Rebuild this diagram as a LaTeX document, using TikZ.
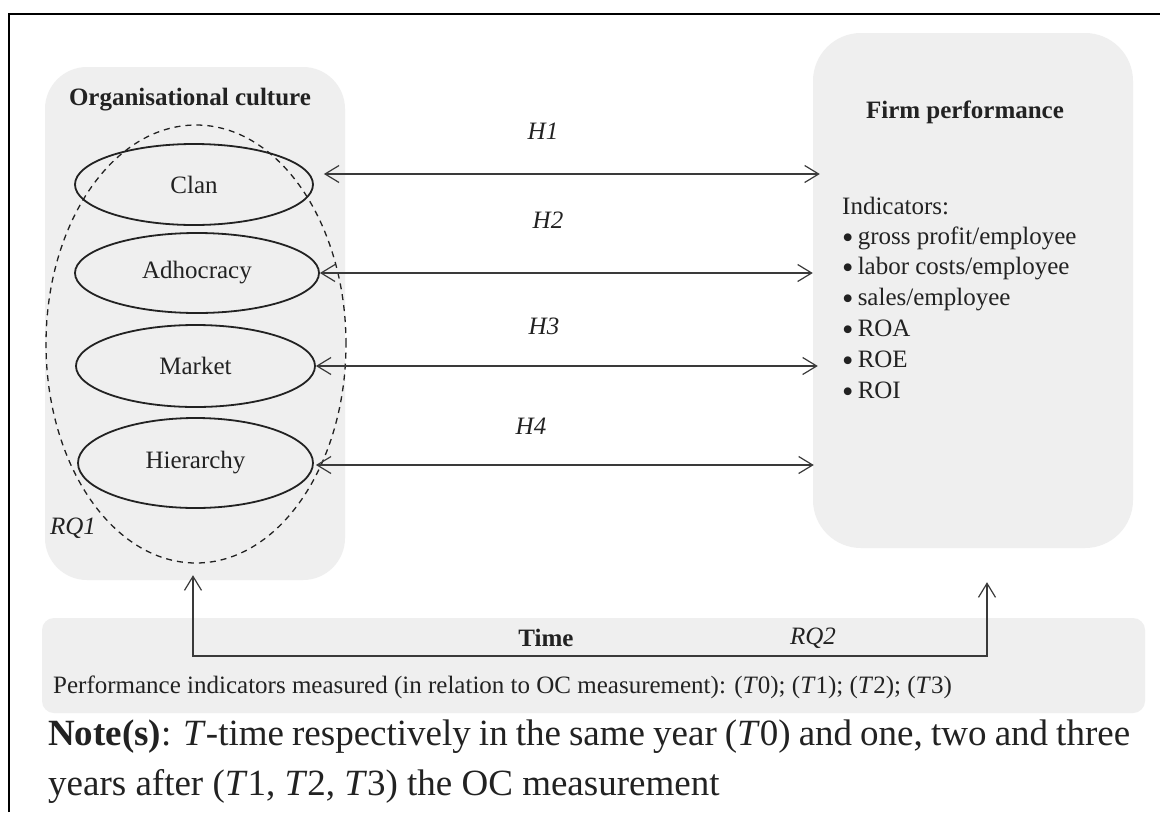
\documentclass[tikz,border=0pt]{standalone}
\usepackage{fontspec}
\setmainfont{Liberation Serif}
\usetikzlibrary{arrows.meta,calc,shapes.geometric}
\definecolor{boxgray}{HTML}{EFEFEF}
\definecolor{ink}{HTML}{222222}
\definecolor{linegray}{HTML}{3A3A3A}
\newcommand{\mybul}{\raisebox{-4pt}{\scalebox{1.3}{\textbullet}}\,}
\begin{document}
\begin{tikzpicture}[x=1pt,y=-1pt,
  lbl/.style={text=ink, font=\fontsize{25}{30}\selectfont, text height=17pt, text depth=5pt, inner sep=0pt},
  hyp/.style={lbl, font=\fontsize{25}{30}\selectfont\itshape},
  headline/.style={lbl, font=\fontsize{25}{30}\selectfont\bfseries},
  panel/.style={rectangle, fill=boxgray, draw=none, inner sep=0pt},
  culture/.style={ellipse, draw=ink, line width=1.8pt, inner sep=0pt, text=ink, font=\fontsize{25}{30}\selectfont},
  zone/.style={ellipse, draw=ink, line width=1.3pt, dash pattern=on 6pt off 5pt, inner sep=0pt},
  link/.style={draw=linegray, line width=1.2pt, {Straight Barb[length=14pt,width=17pt]}-{Straight Barb[length=14pt,width=17pt]}},
  notefont/.style={text=ink, font=\fontsize{37}{44}\selectfont, text height=25pt, text depth=8pt, inner sep=0pt, anchor=west}
]
\useasboundingbox (0,0) rectangle (1160,812);
\fill[white] (0,0) rectangle (1160,812);
\draw[black, line width=2.8pt] (9,812) -- (9,14) -- (1160,14);

% panels
\node[panel, rounded corners=42pt, minimum width=300pt, minimum height=513pt] (orgbox) at (195,323.5) {};
\node[panel, rounded corners=48pt, minimum width=320pt, minimum height=515pt] (perfbox) at (973,290.5) {};
\node[panel, rounded corners=12pt, minimum width=1103pt, minimum height=95pt] (timebox) at (593.5,665.5) {};

% left panel content
\node[headline] (orgtitle) at (190,99) {Organisational culture};
\node[zone, minimum width=300pt, minimum height=438pt] (rq1zone) at (196,344) {};
\node[culture, minimum width=238pt, minimum height=81pt] (clan) at (194,184.5) {Clan};
\node[culture, minimum width=244pt, minimum height=80pt] (adhoc) at (197,273) {Adhocracy};
\node[culture, minimum width=239pt, minimum height=82pt] (market) at (195.5,366) {Market};
\node[culture, minimum width=235pt, minimum height=90pt] (hier) at (195.5,463) {Hierarchy};
\node[hyp] (rq1) at (73,528) {RQ1};

% right panel content
\node[headline] (perftitle) at (965,112) {Firm performance};
\node[lbl, anchor=west] (ind0) at (842,208) {Indicators:};
\node[lbl, anchor=west] (ind1) at (842,238) {\mybul gross profit/employee};
\node[lbl, anchor=west] (ind2) at (842,268) {\mybul labor costs/employee};
\node[lbl, anchor=west] (ind3) at (842,299) {\mybul sales/employee};
\node[lbl, anchor=west] (ind4) at (842,330) {\mybul ROA};
\node[lbl, anchor=west] (ind5) at (842,361) {\mybul ROE};
\node[lbl, anchor=west] (ind6) at (842,392) {\mybul ROI};

% hypotheses
\node[hyp] (h1) at (543,133) {H1};
\node[hyp] (h2) at (548,222) {H2};
\node[hyp] (h3) at (544,328) {H3};
\node[hyp] (h4) at (531,428) {H4};

\coordinate (h1a) at ($(clan.east)+(10,-10.5)$);
\draw[link] (h1a) -- ($(h1a -| perfbox.west)+(7,0)$);
\draw[link] (adhoc.east) -- (adhoc.east -| perfbox.west);
\draw[link] (market.east) -- ($(market.east -| perfbox.west)+(5,0)$);
\coordinate (h4a) at ($(hier.east)+(2,2)$);
\draw[link] (h4a) -- ($(h4a -| perfbox.west)+(1,0)$);

% time panel
\node[headline] (timelbl) at (546,640) {Time};
\node[hyp] (rq2) at (813,638) {RQ2};
\node[lbl, anchor=west] (perfmeas) at (53,687) {Performance indicators measured (in relation to OC measurement): (\textit{T}0); (\textit{T}1); (\textit{T}2); (\textit{T}3)};
\coordinate (rq1tip) at ($(orgbox.south)+(-2,-5)$);
\coordinate (rq2tip) at ($(perfbox.south)+(14,34)$);
\coordinate (tl) at (rq1tip |- 0,656);
\coordinate (tr) at (rq2tip |- 0,656);
\draw[link] (rq1tip) -- (tl) -- (tr) -- (rq2tip);

% note
\node[notefont] (note1) at (48,737) {\makebox[1082pt][s]{\textbf{Note(s)}: \textit{T}-time respectively in the same year (\textit{T}0) and one, two and three}};
\node[notefont] (note2) at (48,787) {years after (\textit{T}1, \textit{T}2, \textit{T}3) the OC measurement};
\end{tikzpicture}
\end{document}
